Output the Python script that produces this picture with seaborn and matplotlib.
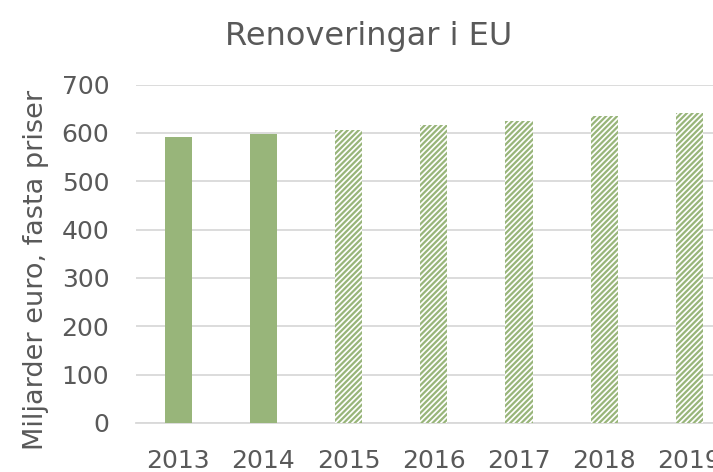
import matplotlib
matplotlib.use("Agg")
import matplotlib.pyplot as plt
import seaborn as sns
import pandas as pd

years = ["2013", "2014", "2015", "2016", "2017", "2018", "2019"]
values = [591, 598, 605, 616, 625, 634, 642]
forecast = [False, False, True, True, True, True, True]

sns.set_theme(style="white")
plt.rcParams['font.family'] = ['DejaVu Sans']
plt.rcParams['hatch.linewidth'] = 1.6

green = "#98B57A"
grey_text = "#595959"
grid_col = "#D9D9D9"

df = pd.DataFrame({"year": years, "value": values})

fig = plt.figure(figsize=(7.13, 4.72), dpi=100)
ax = fig.add_axes([135.7/713, 49/472, 596.3/713, 338.5/472])

sns.barplot(data=df, x="year", y="value", color=green, width=0.32,
            saturation=1, ax=ax, zorder=3)

for patch, fc in zip(ax.patches, forecast):
    patch.set_linewidth(0)
    if fc:
        patch.set_facecolor("white")
        patch.set_edgecolor(green)
        patch.set_hatch("//////")

ax.set_ylim(0, 700)
ax.set_yticks(range(0, 701, 100))
ax.yaxis.grid(True, color=grid_col, linewidth=1.3, zorder=0)
ax.set_axisbelow(True)
for s in ["top", "right", "left"]:
    ax.spines[s].set_visible(False)
ax.spines["bottom"].set_color(grid_col)
ax.spines["bottom"].set_linewidth(1.3)
ax.tick_params(axis="both", length=0, labelsize=18, colors=grey_text)
ax.tick_params(axis="y", pad=19)
ax.tick_params(axis="x", pad=19)
ax.set_xlabel("")
ax.set_ylabel("Miljarder euro, fasta priser", fontsize=19.5, color=grey_text)
ax.yaxis.set_label_coords(-0.146, 0.452)
fig.text(369/713, 1 - 36/472, "Renoveringar i EU", ha="center", va="center",
         fontsize=23, color=grey_text)

fig.savefig("out.png", dpi=100)
